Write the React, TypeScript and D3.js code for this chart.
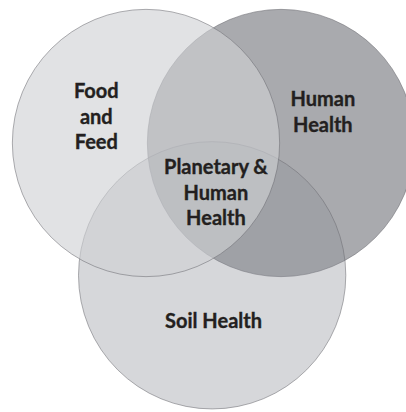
import React from 'react';
import * as d3 from 'd3';

// three sets of the Venn diagram, in unit coordinates (1 = distance between the two top centres)
const setNames = ['Human Health', 'Soil Health', 'Food and Feed'];
const setX = [1, 0.49, 0];
const setY = [0, 0.98, 0];
const setR = [0.99, 0.99, 0.99];
const setFill = ['rgb(169,170,174)', 'rgb(143,146,154)', 'rgb(207,208,211)'];
const setOpacity = [1, 0.365, 0.624];

// labels (lines) and their anchor in the same unit coordinates
const labelLines = [
  ['Food', 'and', 'Feed'],
  ['Human', 'Health'],
  ['Planetary &', 'Human', 'Health'],
  ['Soil Health'],
];
const labelX = [-0.368, 1.31, 0.518, 0.5];
const labelY = [-0.333, -0.274, 0.23, 1.37];

const width = 406;
const height = 412;

const App = () => {
  // unit -> pixel scales
  const x = d3.scaleLinear().domain([0, 1]).range([146, 281]);
  const y = d3.scaleLinear().domain([0, 1]).range([143, 278]);
  const k = x(1) - x(0);
  const lineH = 25.5;

  return (
    <svg width={width} height={height} style={{ position: 'absolute', left: 0, top: 0, background: '#fff' }}>
      <rect width={width} height={height} fill="#fff" />
      {setNames.map((name, i) => (
        <circle
          key={name}
          cx={x(setX[i])}
          cy={y(setY[i])}
          r={setR[i] * k}
          fill={setFill[i]}
          fillOpacity={setOpacity[i]}
          stroke="rgba(110,110,115,0.55)"
          strokeWidth={1}
        />
      ))}
      {labelLines.map((lines, i) => (
        <text
          key={i}
          x={x(labelX[i])}
          y={y(labelY[i])}
          textAnchor="middle"
          fontFamily="Lato, 'Open Sans', sans-serif"
          fontWeight={700}
          fontSize={20}
          fill="#231f20"
          stroke="#231f20"
          strokeWidth={0.35}
        >
          {lines.map((l, j) => (
            <tspan key={j} x={x(labelX[i])} dy={j === 0 ? 0 : lineH}>{l}</tspan>
          ))}
        </text>
      ))}
    </svg>
  );
};

export default App;
